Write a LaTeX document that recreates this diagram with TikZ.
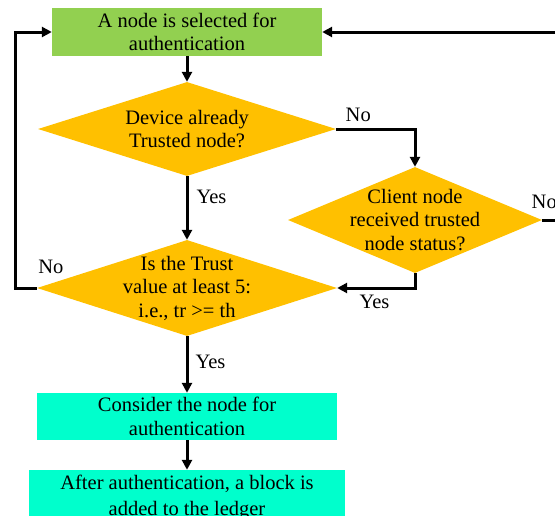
\documentclass[tikz,border=0pt]{standalone}
\usepackage{fontspec}
\setmainfont{Liberation Serif}
\newfontfamily\chartfont{Liberation Serif}
\usetikzlibrary{shapes.geometric,arrows.meta}
\definecolor{leafgreen}{HTML}{92D050}
\definecolor{amber}{HTML}{FFC000}
\definecolor{aqua}{HTML}{00FFCC}

\begin{document}
\begin{tikzpicture}[x=1pt,y=-1pt,
    every node/.style={font=\chartfont\fontsize{20.5}{23.5}\selectfont},
    procbox/.style={rectangle,align=center,inner sep=0pt,minimum height=48pt},
    decision/.style={diamond,fill=amber,align=center,inner sep=-6pt},
    flow/.style={line width=3pt,-{Triangle[length=10pt,width=10pt]}},
    lbl/.style={inner sep=0pt}]

    \useasboundingbox (0,0) rectangle (555,515);
    \clip (0,0) rectangle (555,515);

    \node[procbox,fill=leafgreen,minimum width=270pt] (select) at (187,32) {A node is selected for\\authentication};
    \node[decision,minimum width=298pt,minimum height=94pt,shape aspect=3.17] (trusted) at (187,129) {Device already\\Trusted node?};
    \node[decision,minimum width=254pt,minimum height=106pt,shape aspect=2.4] (client) at (415,220) {Client node\\received trusted\\node status?};
    \node[decision,minimum width=300pt,minimum height=96pt,shape aspect=3.125] (trust) at (187,288) {Is the Trust\\value at least 5:\\i.e., tr >= th};
    \node[procbox,fill=aqua,minimum width=300pt,minimum height=47pt] (consider) at (187,416.5) {Consider the node for\\authentication};
    \node[procbox,fill=aqua,minimum width=316pt,minimum height=54pt,font=\chartfont\fontsize{20.5}{26}\selectfont] (ledger) at (187,497) {After authentication, a block is\\added to the ledger};

    \coordinate (noturn) at (15,288);
    \coordinate (outright) at (575,220);

    \draw[flow] (select) -- (trusted);
    \draw[flow] (trusted.east) -| node[lbl,pos=0.14,above,yshift=6pt] {No} (client.north);
    \draw[flow] (trusted) -- node[lbl,pos=0.33,right,xshift=8pt] {Yes} (trust);
    \draw[flow] (client.south) |- node[lbl,pos=0.76,below,yshift=-6pt] {Yes} (trust.east);
    \draw[flow] (client.east) node[lbl,anchor=south west,xshift=-12pt,yshift=10pt] {No} -- (outright) |- (select.east);
    \draw[flow] (trust.west) node[lbl,anchor=south west,yshift=13pt] {No} -- (noturn) |- (select.west);
    \draw[flow] (trust) -- node[lbl,pos=0.45,right,xshift=7pt] {Yes} (consider);
    \draw[flow] (consider) -- (ledger);

\end{tikzpicture}
\end{document}
